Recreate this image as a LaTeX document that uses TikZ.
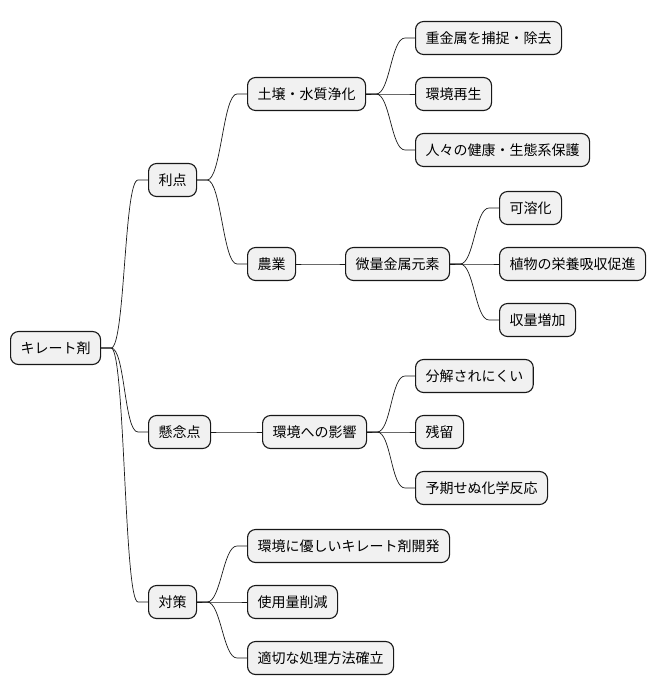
\documentclass[tikz,border=0pt]{standalone}
\usepackage{fontspec}
\newfontfamily\jpfont{Noto Sans CJK JP}
\usetikzlibrary{positioning}
\definecolor{boxfill}{HTML}{F1F1F1}
\definecolor{boxline}{HTML}{181818}
\tikzset{
  topic/.style={draw=boxline, fill=boxfill, rounded corners=8pt, line width=1.1pt,
    minimum height=33pt, inner xsep=10pt, inner ysep=0pt, anchor=west,
    font=\jpfont\fontsize{14pt}{17pt}\selectfont},
  link/.style={every edge/.style={draw=boxline, line width=.7pt,
    to path={-- ++(10,0) .. controls +(14,0) and +(-14,0) .. ([xshift=-10pt]\tikztotarget) -- (\tikztotarget)}}}
}

\begin{document}
\begin{tikzpicture}[x=1pt, y=-1pt]
  \useasboundingbox (0,0) rectangle (656,696);
  % root and first level
  \node[topic] (chel) at (10,348) {キレート剤};
  \node[topic] (merit) at (148,180) {利点};
  \node[topic] (concern) at (148,432) {懸念点};
  \node[topic] (counter) at (148,602) {対策};
  % merits
  \node[topic] (purify) at (247,94) {土壌・水質浄化};
  \node[topic] (agri) at (247,264) {農業};
  \node[topic] (capture) at (415,38) {重金属を捕捉・除去};
  \node[topic] (regen) at (415,94) {環境再生};
  \node[topic] (health) at (415,150) {人々の健康・生態系保護};
  \node[topic] (trace) at (345,264) {微量金属元素};
  \node[topic] (soluble) at (499,208) {可溶化};
  \node[topic] (uptake) at (499,264) {植物の栄養吸収促進};
  \node[topic] (yield) at (499,320) {収量増加};
  % concerns
  \node[topic] (impact) at (262,432) {環境への影響};
  \node[topic] (persist) at (415,376) {分解されにくい};
  \node[topic] (residue) at (415,432) {残留};
  \node[topic] (react) at (415,488) {予期せぬ化学反応};
  % countermeasures
  \node[topic] (green) at (247,546) {環境に優しいキレート剤開発};
  \node[topic] (reduce) at (247,602) {使用量削減};
  \node[topic] (dispose) at (247,658) {適切な処理方法確立};

  \path[link]
  (chel.east) edge (merit.west)
              edge (concern.west)
              edge (counter.west)
  (merit.east) edge (purify.west)
               edge (agri.west)
  (purify.east) edge (capture.west)
                edge (regen.west)
                edge (health.west)
  (agri.east) edge (trace.west)
  (trace.east) edge (soluble.west)
               edge (uptake.west)
               edge (yield.west)
  (concern.east) edge (impact.west)
  (impact.east) edge (persist.west)
                edge (residue.west)
                edge (react.west)
  (counter.east) edge (green.west)
                 edge (reduce.west)
                 edge (dispose.west)
  ;
\end{tikzpicture}
\end{document}
